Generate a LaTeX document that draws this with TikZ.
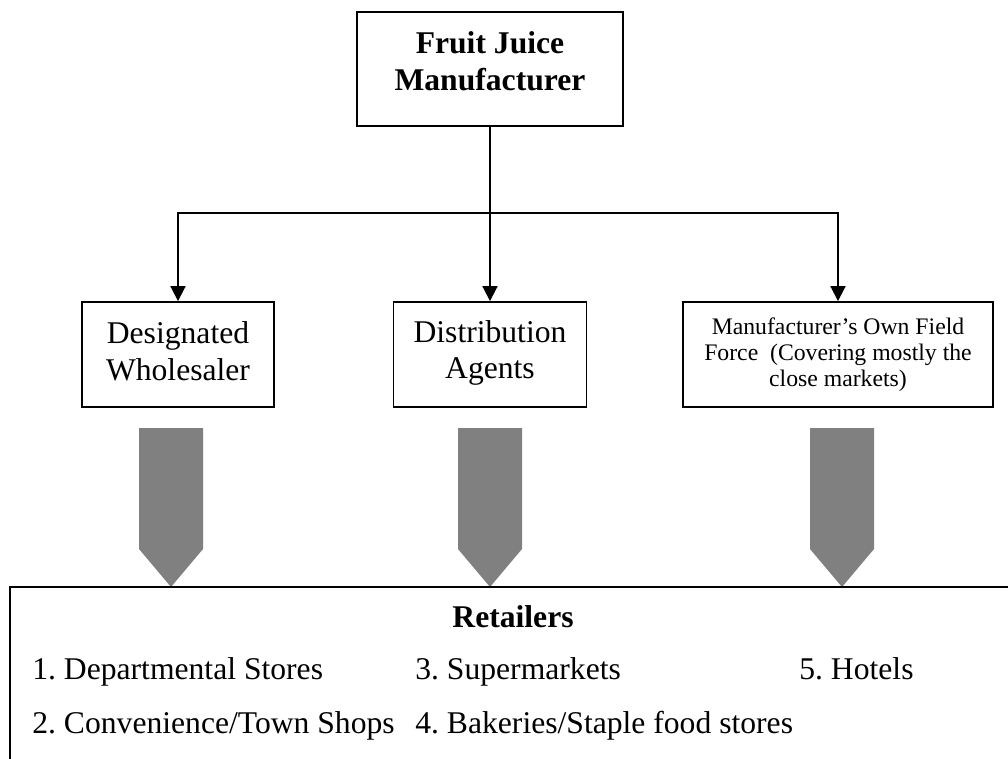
\documentclass[tikz,border=0pt]{standalone}
\usepackage{fontspec}
\setmainfont{Liberation Serif}
\usetikzlibrary{positioning,arrows.meta}

\tikzset{
  pbox/.style={draw, line width=1.1pt, align=center, inner sep=0pt, minimum height=2.1cm},
  txt/.style={font=\fontsize{18}{20.7}\selectfont},
  boldtxt/.style={font=\fontsize{18}{21.5}\selectfont\bfseries},
  smalltxt/.style={font=\fontsize{13.5}{14.8}\selectfont},
  item/.style={txt, anchor=base west, inner sep=0pt},
  link/.style={line width=1.1pt},
  tolink/.style={link, -{Triangle[width=8.5pt,length=8.5pt]}},
  blockarrow/.style={fill=gray}
}

\begin{document}
\frenchspacing
\begin{tikzpicture}[x=0.02cm,y=-0.02cm]
	\clip (0,0) rectangle (1008,758);
	% manufacturer and the three channels
	\node[pbox, boldtxt, minimum width=5.32cm, minimum height=2.28cm, text depth=9pt] (maker) at (490,69) {Fruit Juice\\Manufacturer};
	\node[pbox, txt, minimum width=3.84cm, text depth=4pt] (whole) at (178,354.5) {Designated\\Wholesaler};
	\node[pbox, txt, minimum width=3.86cm, text depth=6pt] (agents) at (490,354.5) {Distribution\\Agents};
	\node[pbox, smalltxt, minimum width=6.2cm] (field) at (838,354.5) {Manufacturer’s Own Field\\Force\ \ (Covering mostly the\\close markets)};
	\coordinate (split) at (490,213);
	\draw[link] (maker) -- (split);
	\draw[tolink] (split) -| (whole);
	\draw[tolink] (split) -- (agents);
	\draw[tolink] (split) -| (field);
	% grey block arrows
	\foreach \x in {171,490,842}
		\fill[blockarrow] (\x-32,428) -- (\x+32,428) -- (\x+32,549) -- (\x,587) -- (\x-32,549) -- cycle;
	% retailers
	\draw[link] (10,587) rectangle (1040,800);
	\node[anchor=base, boldtxt] (retail) at (513,627) {Retailers};
	\node[item] (shopa) at (32,679) {1. Departmental Stores};
	\node[item] (shopb) at (32,733) {2. Convenience/Town Shops};
	\node[item] (shopc) at (415,679) {3. Supermarkets};
	\node[item] (shopd) at (415,733) {4. Bakeries/Staple food stores};
	\node[item] (shope) at (799,679) {5. Hotels};
\end{tikzpicture}
\end{document}
